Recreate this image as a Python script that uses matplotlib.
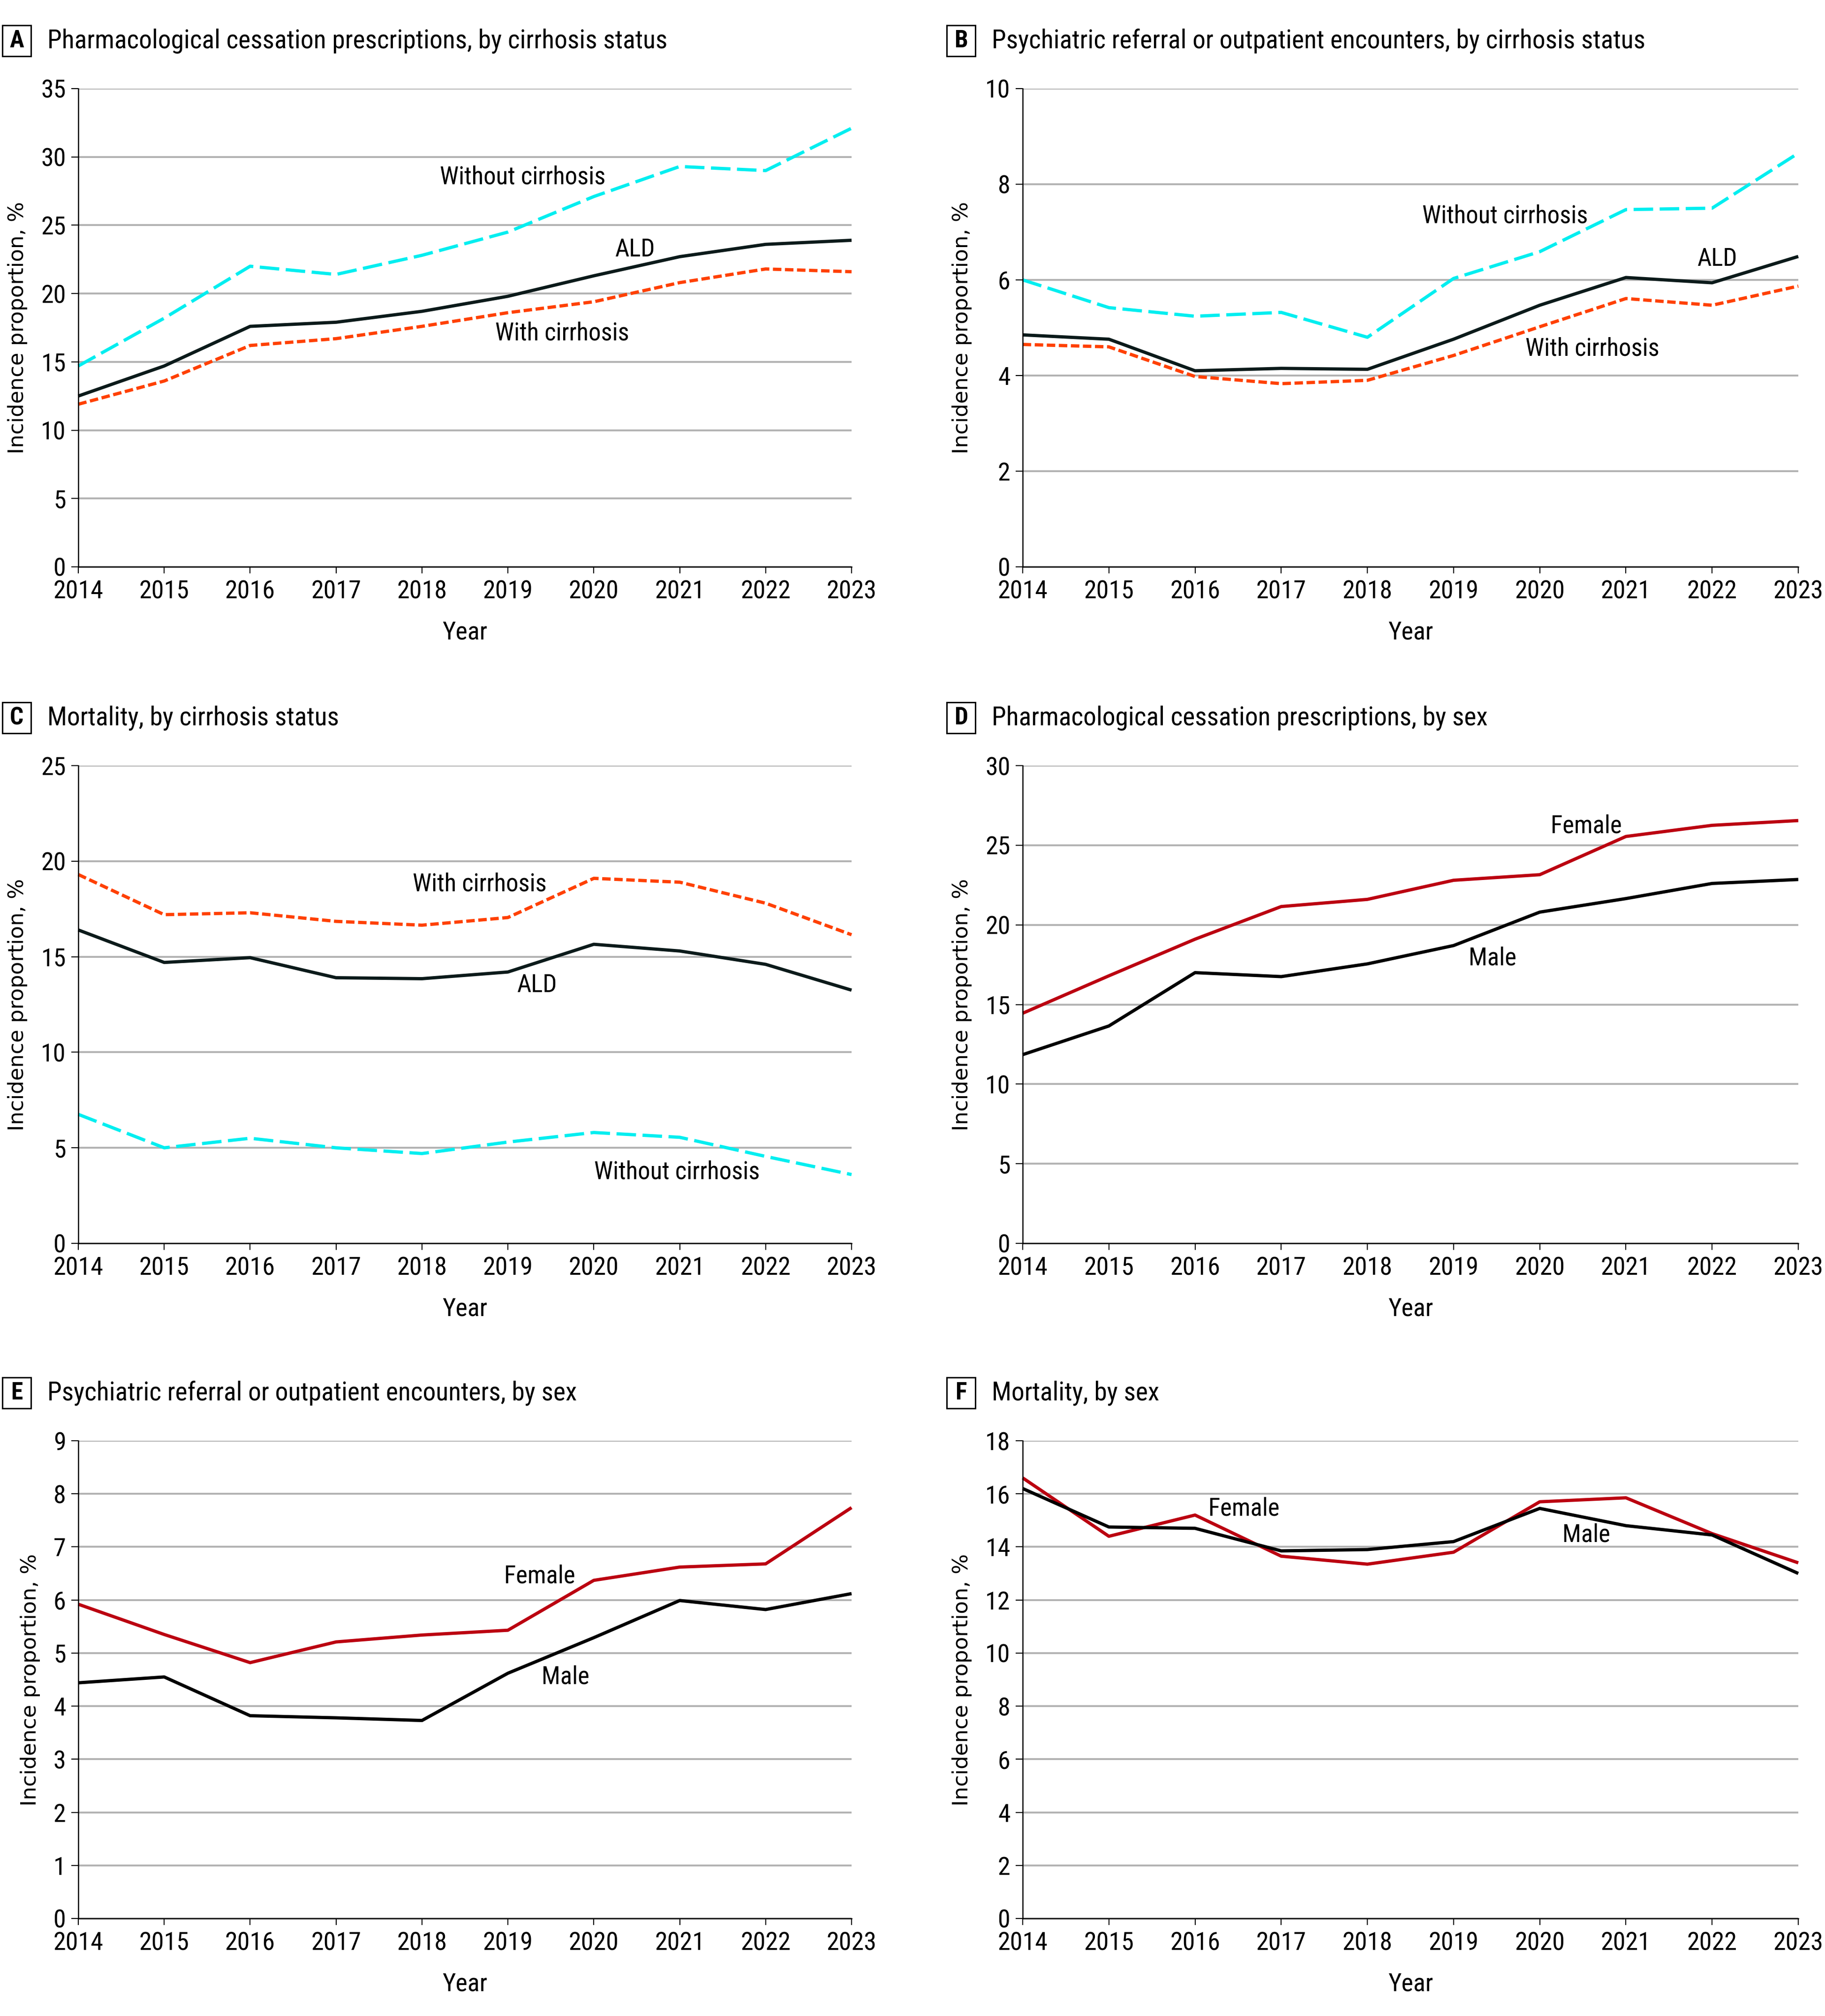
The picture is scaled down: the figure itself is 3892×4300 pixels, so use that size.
import numpy as np
import matplotlib
matplotlib.use("Agg")
import matplotlib.pyplot as plt
from matplotlib.patches import Rectangle

# Data (incidence proportion, %)
years = [2014, 2015, 2016, 2017, 2018, 2019, 2020, 2021, 2022, 2023]

a_ald = [12.5, 14.7, 17.6, 17.9, 18.7, 19.8, 21.3, 22.7, 23.6, 23.9]
a_without = [14.7, 18.2, 22.0, 21.4, 22.8, 24.5, 27.1, 29.3, 29.0, 32.1]
a_with = [11.9, 13.6, 16.2, 16.7, 17.6, 18.6, 19.4, 20.8, 21.8, 21.6]

b_ald = [4.85, 4.76, 4.10, 4.15, 4.13, 4.76, 5.47, 6.05, 5.94, 6.49]
b_without = [6.00, 5.42, 5.24, 5.32, 4.80, 6.03, 6.59, 7.47, 7.50, 8.65]
b_with = [4.65, 4.60, 3.98, 3.83, 3.90, 4.42, 5.02, 5.61, 5.47, 5.87]

c_ald = [16.4, 14.7, 14.95, 13.9, 13.85, 14.2, 15.65, 15.3, 14.6, 13.25]
c_without = [6.75, 5.0, 5.5, 5.0, 4.7, 5.3, 5.8, 5.55, 4.55, 3.6]
c_with = [19.3, 17.2, 17.3, 16.85, 16.65, 17.05, 19.1, 18.9, 17.8, 16.15]

d_female = [14.45, 16.8, 19.1, 21.15, 21.6, 22.8, 23.15, 25.55, 26.25, 26.55]
d_male = [11.85, 13.65, 17.0, 16.75, 17.55, 18.7, 20.8, 21.65, 22.6, 22.85]

e_female = [5.92, 5.35, 4.82, 5.21, 5.34, 5.43, 6.37, 6.62, 6.68, 7.74]
e_male = [4.44, 4.55, 3.82, 3.78, 3.73, 4.62, 5.29, 5.99, 5.82, 6.12]

f_female = [16.6, 14.4, 15.2, 13.65, 13.35, 13.8, 15.7, 15.85, 14.5, 13.4]
f_male = [16.2, 14.75, 14.7, 13.85, 13.9, 14.2, 15.45, 14.8, 14.45, 13.0]

panel_letters = ["A", "B", "C", "D", "E", "F"]
panel_titles = [
    "Pharmacological cessation prescriptions, by cirrhosis status",
    "Psychiatric referral or outpatient encounters, by cirrhosis status",
    "Mortality, by cirrhosis status",
    "Pharmacological cessation prescriptions, by sex",
    "Psychiatric referral or outpatient encounters, by sex",
    "Mortality, by sex",
]
y_max = [35, 10, 25, 30, 9, 18]
y_step = [5, 2, 5, 5, 1, 2]

# styles
NARROW = ["Roboto Condensed", "Liberation Sans Narrow", "DejaVu Sans"]
WIDE = ["DejaVu Sans"]
CYAN = "#00eef0"
ORANGE = "#ff4000"
DARK = "#0b1a1a"
RED = "#bb0010"
BLACK = "#000000"
GRID = "#b3b3b3"
LW = 5.0

style_ald = dict(color=DARK, lw=LW, ls="-")
style_without = dict(color=CYAN, lw=LW, dashes=(6.0, 2.0))
style_with = dict(color=ORANGE, lw=LW, dashes=(2.6, 1.1))
style_female = dict(color=RED, lw=LW, ls="-")
style_male = dict(color=BLACK, lw=LW, ls="-")

# series per panel: (values, style, label, label position)
panels = [
    [(a_without, style_without, "Without cirrhosis", (2019.17, 28.5)),
     (a_with, style_with, "With cirrhosis", (2019.63, 17.1)),
     (a_ald, style_ald, "ALD", (2020.48, 23.2))],
    [(b_without, style_without, "Without cirrhosis", (2019.6, 7.33)),
     (b_with, style_with, "With cirrhosis", (2020.61, 4.56)),
     (b_ald, style_ald, "ALD", (2022.06, 6.44))],
    [(c_without, style_without, "Without cirrhosis", (2020.97, 3.74)),
     (c_with, style_with, "With cirrhosis", (2018.67, 18.8)),
     (c_ald, style_ald, "ALD", (2019.34, 13.5))],
    [(d_female, style_female, "Female", (2020.54, 26.2)),
     (d_male, style_male, "Male", (2019.45, 17.9))],
    [(e_female, style_female, "Female", (2019.37, 6.45)),
     (e_male, style_male, "Male", (2019.67, 4.55))],
    [(f_female, style_female, "Female", (2016.57, 15.43)),
     (f_male, style_male, "Male", (2020.54, 14.45))],
]

W, H = 3892, 4300
fig = plt.figure(figsize=(W / 100, H / 100), dpi=100)

# axes boxes in pixels: left, right per column; top, bottom per row
cols = [(167, 1816), (2181, 3835)]
rows = [(189, 1209), (1633, 2652), (3073, 4092)]

for i, series in enumerate(panels):
    left, right = cols[i % 2]
    top, bottom = rows[i // 2]
    ax = fig.add_axes([left / W, 1 - bottom / H, (right - left) / W, (bottom - top) / H])

    for vals, st, lab, pos in series:
        ax.plot(years, vals, clip_on=False, solid_capstyle="butt", zorder=3, **st)
        ax.text(pos[0], pos[1], lab, ha="center", va="center", fontsize=38,
                family=NARROW, zorder=4)

    ax.set_xlim(2014, 2023)
    ax.set_ylim(0, y_max[i])
    ax.set_xticks(years)
    ax.set_yticks(np.arange(0, y_max[i] + 0.1, y_step[i]))
    ax.grid(axis="y", color=GRID, lw=2.9)
    ax.set_axisbelow(True)
    for s in ["top", "right"]:
        ax.spines[s].set_visible(False)
    for s in ["left", "bottom"]:
        ax.spines[s].set_linewidth(1.8)
        ax.spines[s].set_zorder(5)
    ax.tick_params(axis="x", direction="out", length=10, width=1.6, pad=10,
                   labelsize=39)
    ax.tick_params(axis="y", direction="out", length=11, width=1.6, pad=8,
                   labelsize=39)
    for lbl in ax.get_xticklabels() + ax.get_yticklabels():
        lbl.set_family(NARROW)

    ax.set_xlabel("Year", fontsize=39, family=NARROW, labelpad=26)
    ax.set_ylabel("Incidence proportion, %", fontsize=32.5, family=WIDE, labelpad=20)

    # panel letter box and title
    ty = top - 102
    bx0 = left - 162
    fig.patches.append(Rectangle((bx0 / W, 1 - (ty + 33) / H), 61 / W, 66 / H,
                                 transform=fig.transFigure, fill=False,
                                 edgecolor="black", lw=2.2))
    fig.text((bx0 + 30.5) / W, 1 - ty / H, panel_letters[i], ha="center", va="center",
             fontsize=37, fontweight="bold", family=NARROW)
    fig.text((left - 66) / W, 1 - ty / H, panel_titles[i], ha="left", va="center",
             fontsize=40, family=NARROW)

fig.savefig("out.png", dpi=100, facecolor="white")
